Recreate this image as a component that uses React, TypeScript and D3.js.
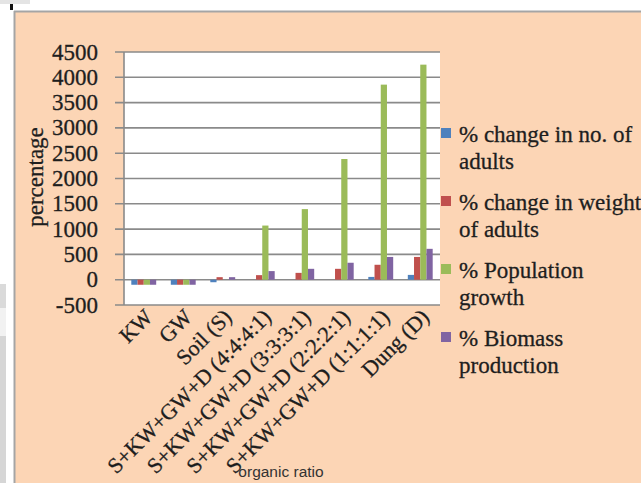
import React from "react";
import * as d3 from "d3";

// Organic substrate mixtures on the category axis
const categories: string[] = [
  "KW",
  "GW",
  "Soil (S)",
  "S+KW+GW+D (4:4:4:1)",
  "S+KW+GW+D (3:3:3:1)",
  "S+KW+GW+D (2:2:2:1)",
  "S+KW+GW+D (1:1:1:1)",
  "Dung (D)",
];

const seriesNames: string[] = [
  "% change in no. of adults",
  "% change in weight of adults",
  "% Population growth",
  "% Biomass production",
];

// Legend text, split over two lines per entry
const legendLines: string[][] = [
  ["% change in no. of", "adults"],
  ["% change in weight", "of adults"],
  ["% Population", "growth"],
  ["% Biomass", "production"],
];

const changeInAdults: number[] = [-100, -100, -50, 0, 0, 0, 55, 95];
const changeInWeight: number[] = [-100, -100, 50, 90, 135, 215, 295, 450];
const populationGrowth: number[] = [-100, -100, 0, 1070, 1395, 2385, 3855, 4250];
const biomassProduction: number[] = [-100, -100, 50, 170, 215, 335, 450, 610];

const seriesValues: number[][] = [
  changeInAdults,
  changeInWeight,
  populationGrowth,
  biomassProduction,
];

const seriesColors: string[] = ["#4F81BD", "#C0504D", "#9BBB59", "#8064A2"];

const yTicks: number[] = [-500, 0, 500, 1000, 1500, 2000, 2500, 3000, 3500, 4000, 4500];

const yAxisTitle = "percentage";
const xAxisTitle = "organic ratio";

const W = 641;
const H = 483;
const plot = { left: 124, right: 440, top: 52, bottom: 305 };

export default function App() {
  const x0 = d3
    .scaleBand<string>()
    .domain(categories)
    .range([plot.left, plot.right])
    .paddingInner(0.37)
    .paddingOuter(0.185);
  const x1 = d3
    .scaleBand<string>()
    .domain(seriesNames)
    .range([0, x0.bandwidth()]);
  const y = d3.scaleLinear().domain([-500, 4500]).range([plot.bottom, plot.top]);

  const serif = "'Liberation Serif', 'Times New Roman', serif";
  const ink = "#1e1e1e";
  const grid = "#8a8a8a";
  // slightly heavier serif text
  const textWeight = { stroke: ink, strokeWidth: 0.3 };

  return (
    <svg
      width={W}
      height={H}
      viewBox={`0 0 ${W} ${H}`}
      style={{ position: "absolute", left: 0, top: 0, display: "block" }}
    >
      {/* page strip around the chart frame */}
      <rect x={0} y={0} width={W} height={H} fill="#ffffff" />
      <rect x={0} y={0} width={30} height={4} fill="#e4e4e4" />
      <rect x={10} y={4} width={3} height={6} fill="#111" />
      <rect x={0} y={284} width={6} height={24} fill="#dadada" />
      <rect x={0} y={308} width={6} height={28} fill="#f2f2f2" />
      <rect x={0} y={336} width={6} height={147} fill="#d6d6d6" />

      {/* chart area */}
      <rect x={14} y={11} width={W - 14} height={H - 11} fill="#FCD5B5" />
      <line x1={14} x2={W} y1={11.5} y2={11.5} stroke="#a5a5a5" strokeWidth={2} />
      <line x1={14.5} x2={14.5} y1={11} y2={H} stroke="#a5a5a5" strokeWidth={2} />

      {/* plot area */}
      <rect
        x={plot.left}
        y={plot.top}
        width={plot.right - plot.left}
        height={plot.bottom - plot.top}
        fill="#ffffff"
      />

      {/* gridlines with outside tick marks */}
      {yTicks.map((t) => (
        <line
          key={`g${t}`}
          x1={plot.left - 9}
          x2={plot.right}
          y1={y(t)}
          y2={y(t)}
          stroke={grid}
          strokeWidth={1.6}
        />
      ))}
      <line
        x1={plot.left}
        x2={plot.left}
        y1={plot.top}
        y2={plot.bottom}
        stroke={grid}
        strokeWidth={1.6}
      />

      {/* y tick labels */}
      {yTicks.map((t) => (
        <text
          key={`t${t}`}
          x={98}
          y={y(t)}
          textAnchor="end"
          dominantBaseline="central"
          fontFamily={serif}
          fontSize={23}
          fill={ink}
          {...textWeight}
        >
          {t}
        </text>
      ))}

      {/* bars */}
      {categories.map((c, ci) => (
        <g key={c} transform={`translate(${x0(c)},0)`}>
          {seriesNames.map((s, si) => {
            const v = seriesValues[si][ci];
            const y0 = y(0);
            const yv = y(v);
            return (
              <rect
                key={s}
                x={x1(s)}
                y={Math.min(y0, yv)}
                width={x1.bandwidth()}
                height={Math.abs(yv - y0)}
                fill={seriesColors[si]}
              />
            );
          })}
        </g>
      ))}

      {/* category labels */}
      {categories.map((c) => {
        const cx = (x0(c) as number) + x0.bandwidth() / 2 + 5;
        const cy = 313;
        return (
          <text
            key={`l${c}`}
            x={cx}
            y={cy}
            transform={`rotate(-45 ${cx} ${cy})`}
            textAnchor="end"
            dominantBaseline="central"
            fontFamily={serif}
            fontSize={22}
            fill={ink}
            {...textWeight}
          >
            {c}
          </text>
        );
      })}

      {/* axis titles */}
      <text
        x={35}
        y={177}
        transform="rotate(-90 35 177)"
        textAnchor="middle"
        dominantBaseline="central"
        fontFamily={serif}
        fontSize={23}
        fill={ink}
        {...textWeight}
      >
        {yAxisTitle}
      </text>
      <text
        x={281}
        y={477}
        textAnchor="middle"
        fontFamily="'Liberation Sans', Arial, sans-serif"
        fontSize={15.5}
        fill="#333"
      >
        {xAxisTitle}
      </text>

      {/* legend */}
      {legendLines.map((lines, i) => {
        const base = 142 + i * 68;
        return (
          <g key={`lg${i}`}>
            <rect x={441} y={base - 14} width={10} height={10} fill={seriesColors[i]} />
            {lines.map((ln, li) => (
              <text
                key={li}
                x={459}
                y={base + li * 27}
                fontFamily={serif}
                fontSize={23}
                fill={ink}
                {...textWeight}
              >
                {ln}
              </text>
            ))}
          </g>
        );
      })}
    </svg>
  );
}
